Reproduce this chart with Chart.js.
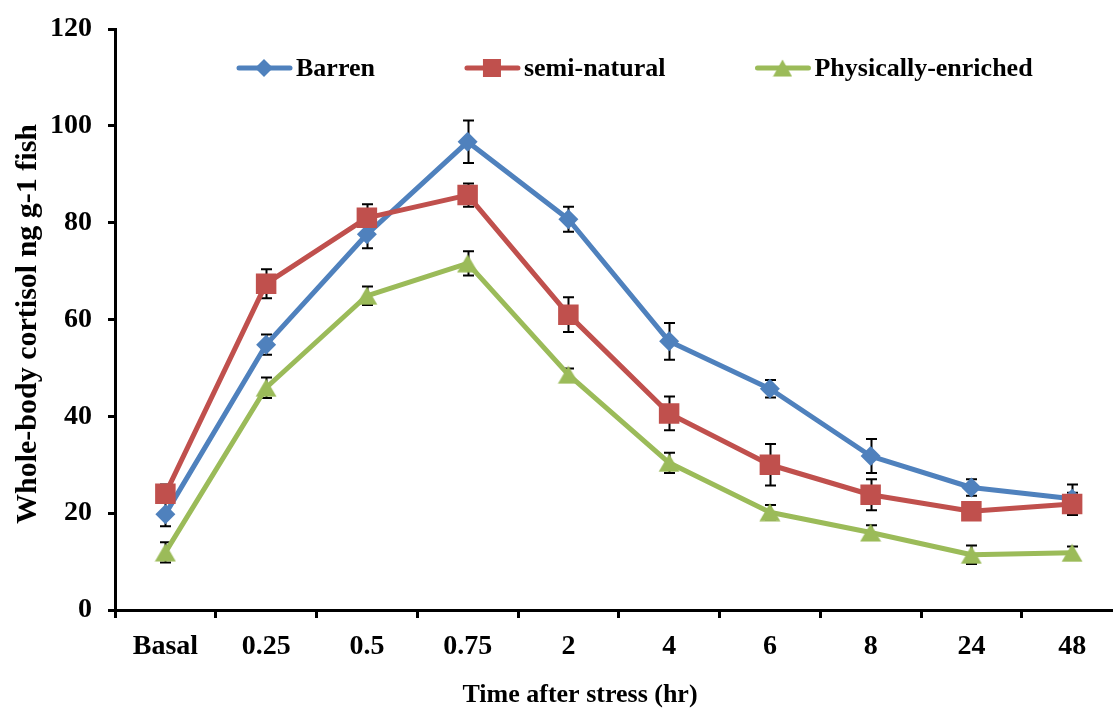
<!DOCTYPE html>
<html>
<head>
<meta charset="utf-8">
<title>Whole-body cortisol after stress</title>
<script src="https://cdn.jsdelivr.net/npm/chart.js@4.4.1/dist/chart.umd.min.js"></script>
<style>
  html, body { margin: 0; padding: 0; background: #ffffff; overflow: hidden; }
  #wrap { width: 1113px; height: 709px; overflow: hidden; }
  canvas { display: block; }
</style>
</head>
<body>
<div id="wrap"><canvas id="chart" width="1137" height="709"></canvas></div>
<script>
// Sampling times after the stressor
const categories = ['Basal', '0.25', '0.5', '0.75', '2', '4', '6', '8', '24', '48'];

// Mean whole-body cortisol (ng g-1) per housing condition
const barren = [19.8, 54.8, 77.6, 96.7, 80.7, 55.5, 45.7, 31.8, 25.3, 23.0];
const semiNatural = [24.0, 67.4, 81.0, 85.7, 61.0, 40.6, 30.0, 23.8, 20.4, 21.9];
const physicallyEnriched = [11.9, 45.9, 64.9, 71.6, 48.6, 30.4, 20.2, 16.0, 11.4, 11.8];

// Standard errors of the means
const barrenErr = [2.5, 2.1, 2.9, 4.4, 2.6, 3.8, 1.8, 3.5, 1.7, 2.9];
const semiNaturalErr = [1.9, 3.0, 2.8, 2.4, 3.6, 3.5, 4.3, 3.2, 1.0, 2.3];
const physicallyEnrichedErr = [2.1, 2.1, 1.9, 2.5, 1.3, 2.1, 1.5, 1.5, 1.9, 1.3];

// Value axis ticks
const yTicks = [0, 20, 40, 60, 80, 100, 120];

const seriesNames = ['Barren', 'semi-natural', 'Physically-enriched'];
const BLUE = '#4F81BD', RED = '#C0504D', GREEN = '#9BBB59';
const FONT = "'Liberation Serif', 'Times New Roman', serif";

// Triangle marker centred on its bounding box
function triangleMarker(color, w, h) {
  const c = document.createElement('canvas');
  c.width = w; c.height = h;
  const g = c.getContext('2d');
  g.fillStyle = color;
  g.beginPath();
  g.moveTo(w / 2, 0.5);
  g.lineTo(w - 0.5, h - 0.5);
  g.lineTo(0.5, h - 0.5);
  g.closePath();
  g.fill();
  return c;
}
const triImg = triangleMarker(GREEN, 22, 19);

// Error bars, drawn under the lines and markers
const errorBars = {
  id: 'errorBars',
  beforeDatasetsDraw(chart) {
    const ctx = chart.ctx;
    const ys = chart.scales.y;
    ctx.save();
    ctx.strokeStyle = '#000000';
    ctx.lineWidth = 2;
    chart.data.datasets.forEach((ds, i) => {
      const meta = chart.getDatasetMeta(i);
      meta.data.forEach((pt, j) => {
        const v = ds.data[j], e = ds.errors[j];
        const x = Math.round(pt.x) + 0.5;
        const yt = ys.getPixelForValue(v + e);
        const yb = ys.getPixelForValue(v - e);
        ctx.beginPath();
        ctx.moveTo(x, yt); ctx.lineTo(x, yb);
        ctx.moveTo(x - 5.5, yt); ctx.lineTo(x + 5.5, yt);
        ctx.moveTo(x - 5.5, yb); ctx.lineTo(x + 5.5, yb);
        ctx.stroke();
      });
    });
    ctx.restore();
  }
};

// Legend row inside the plot and the two axis titles
const decorations = {
  id: 'decorations',
  afterDraw(chart) {
    const ctx = chart.ctx;
    ctx.save();
    // legend
    ctx.font = 'bold 26px ' + FONT;
    ctx.textBaseline = 'middle';
    ctx.textAlign = 'left';
    const ly = 68;
    let x = 237;
    [0, 1, 2].forEach(i => {
      const ds = chart.data.datasets[i];
      const col = ds.borderColor;
      ctx.strokeStyle = col;
      ctx.lineWidth = 5;
      ctx.lineCap = 'round';
      ctx.beginPath();
      ctx.moveTo(x + 2, ly); ctx.lineTo(x + 53, ly);
      ctx.stroke();
      const mx = x + 27;
      ctx.fillStyle = col;
      if (i === 0) {
        ctx.beginPath();
        ctx.moveTo(mx - 9, ly); ctx.lineTo(mx, ly - 9);
        ctx.lineTo(mx + 9, ly); ctx.lineTo(mx, ly + 9);
        ctx.closePath(); ctx.fill();
      } else if (i === 1) {
        ctx.fillRect(mx - 9, ly - 9, 18, 18);
      } else {
        ctx.drawImage(triImg, mx - 10, ly - 9, 20, 18);
      }
      ctx.fillStyle = '#000000';
      ctx.fillText(ds.label, x + 59, ly + 1);
      x += 59 + ctx.measureText(ds.label).width + 90;
    });
    // axis titles
    ctx.fillStyle = '#000000';
    ctx.textAlign = 'center';
    ctx.font = 'bold 26px ' + FONT;
    ctx.fillText('Time after stress (hr)', 580, 695);
    ctx.translate(28, 324);
    ctx.rotate(-Math.PI / 2);
    ctx.font = 'bold 30px ' + FONT;
    ctx.fillText('Whole-body cortisol ng g-1 fish', 0, 0);
    ctx.restore();
  }
};

const common = {
  fill: false,
  tension: 0,
  borderWidth: 5,
  borderJoinStyle: 'round',
  borderCapStyle: 'round',
  pointBorderWidth: 0,
  pointHoverRadius: 10
};

new Chart(document.getElementById('chart'), {
  type: 'line',
  data: {
    labels: categories,
    datasets: [
      Object.assign({}, common, {
        label: seriesNames[0], data: barren, errors: barrenErr,
        borderColor: BLUE, backgroundColor: BLUE, pointBackgroundColor: BLUE,
        pointStyle: 'rectRot', pointRadius: 10, order: 3
      }),
      Object.assign({}, common, {
        label: seriesNames[1], data: semiNatural, errors: semiNaturalErr,
        borderColor: RED, backgroundColor: RED, pointBackgroundColor: RED,
        pointStyle: 'rect', pointRadius: 14.5, order: 2
      }),
      Object.assign({}, common, {
        label: seriesNames[2], data: physicallyEnriched, errors: physicallyEnrichedErr,
        borderColor: GREEN, backgroundColor: GREEN, pointBackgroundColor: GREEN,
        pointStyle: triImg, pointRadius: 11, order: 1
      })
    ]
  },
  options: {
    responsive: false,
    animation: false,
    layout: { padding: { top: 29, right: 1, left: 0, bottom: 0 } },
    plugins: { legend: { display: false }, tooltip: { enabled: false } },
    scales: {
      x: {
        type: 'category',
        offset: true,
        border: { display: true, color: '#000000', width: 3 },
        grid: {
          display: true, offset: true, drawOnChartArea: false, drawTicks: true,
          tickLength: 8, color: '#000000', lineWidth: 3
        },
        ticks: {
          color: '#000000', padding: 12, maxRotation: 0, autoSkip: false,
          font: { family: FONT, size: 28, weight: 'bold' }
        },
        afterFit(scale) { scale.height = 99; scale.paddingLeft = 0; scale.paddingRight = 0; }
      },
      y: {
        min: 0, max: 120,
        afterBuildTicks(scale) { scale.ticks = yTicks.map(v => ({ value: v })); },
        border: { display: true, color: '#000000', width: 3 },
        grid: {
          display: true, drawOnChartArea: false, drawTicks: true,
          tickLength: 7, color: '#000000', lineWidth: 3
        },
        ticks: {
          color: '#000000', padding: 16,
          font: { family: FONT, size: 28, weight: 'bold' }
        },
        afterFit(scale) { scale.width = 115; scale.paddingTop = 0; scale.paddingBottom = 0; }
      }
    }
  },
  plugins: [errorBars, decorations]
});
</script>
</body>
</html>
